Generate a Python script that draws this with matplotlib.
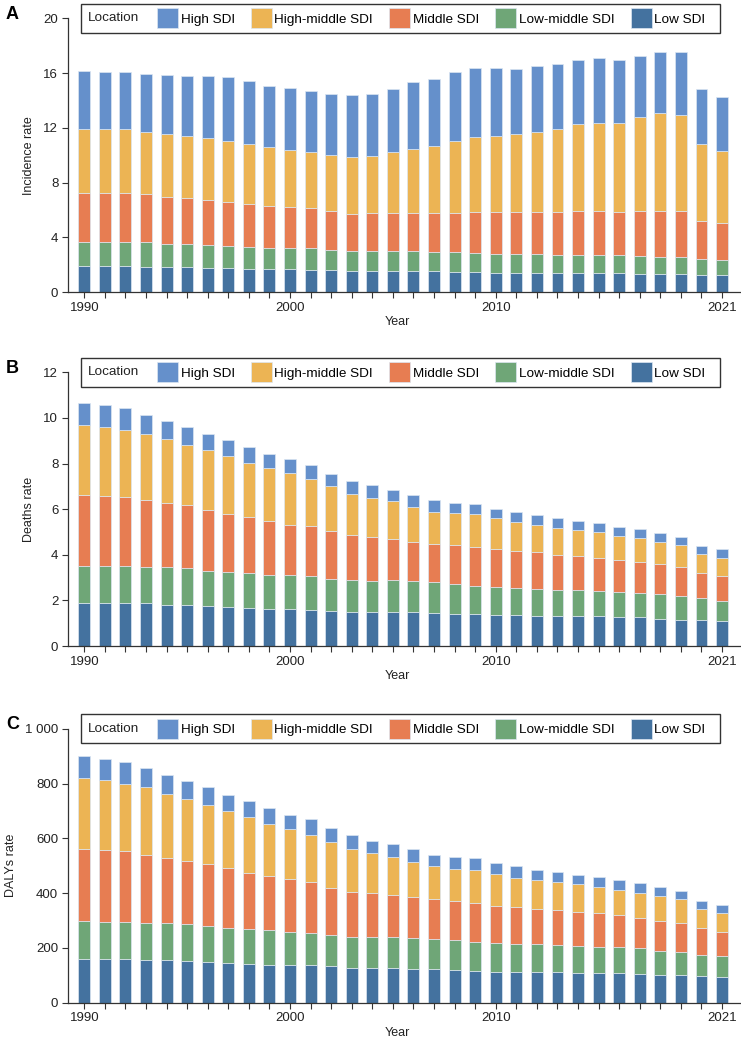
import matplotlib
matplotlib.use("Agg")
import matplotlib.pyplot as plt
import numpy as np
from matplotlib.patches import Patch, Rectangle
from matplotlib.ticker import FuncFormatter

plt.rcParams['font.family'] = ['Liberation Sans', 'DejaVu Sans']

years = list(range(1990, 2022))
groups = ["High SDI", "High-middle SDI", "Middle SDI", "Low-middle SDI", "Low SDI"]
colors = ["#6590CB", "#ECB454", "#E77D52", "#6FA677", "#44729F"]

# cumulative tops (low -> high)
inc_low = [1.95, 1.95, 1.95, 1.85, 1.85, 1.85, 1.78, 1.78, 1.70, 1.70, 1.70, 1.63, 1.63, 1.56, 1.56, 1.56,
           1.56, 1.56, 1.48, 1.48, 1.41, 1.41, 1.41, 1.41, 1.41, 1.41, 1.41, 1.34, 1.34, 1.34, 1.24, 1.24]
inc_lowmid = [3.65, 3.65, 3.65, 3.65, 3.55, 3.55, 3.45, 3.41, 3.31, 3.26, 3.26, 3.26, 3.11, 3.02, 3.02, 3.02,
              3.02, 2.97, 2.97, 2.87, 2.82, 2.82, 2.82, 2.73, 2.73, 2.73, 2.73, 2.65, 2.58, 2.58, 2.43, 2.34]
inc_mid = [7.23, 7.23, 7.23, 7.15, 6.98, 6.91, 6.76, 6.59, 6.45, 6.28, 6.20, 6.13, 5.91, 5.74, 5.77, 5.77,
           5.77, 5.77, 5.77, 5.86, 5.86, 5.86, 5.86, 5.86, 5.94, 5.94, 5.86, 5.94, 5.94, 5.94, 5.23, 5.09]
inc_highmid = [11.90, 11.90, 11.90, 11.73, 11.58, 11.44, 11.27, 11.02, 10.80, 10.58, 10.41, 10.24, 10.02, 9.88, 9.95, 10.27,
               10.49, 10.66, 11.05, 11.36, 11.44, 11.58, 11.68, 11.92, 12.29, 12.36, 12.36, 12.77, 13.07, 12.97, 10.80, 10.34]
inc_high = [16.18, 16.10, 16.10, 15.94, 15.86, 15.79, 15.79, 15.72, 15.43, 15.04, 14.94, 14.72, 14.45, 14.38, 14.45, 14.87,
            15.33, 15.55, 16.06, 16.35, 16.35, 16.28, 16.50, 16.67, 16.96, 17.13, 16.96, 17.27, 17.52, 17.52, 14.87, 14.23]

dth_low = [1.87, 1.87, 1.87, 1.87, 1.81, 1.81, 1.77, 1.71, 1.67, 1.62, 1.62, 1.56, 1.52, 1.48, 1.48, 1.48,
           1.48, 1.43, 1.39, 1.39, 1.35, 1.35, 1.30, 1.30, 1.30, 1.30, 1.26, 1.26, 1.20, 1.15, 1.15, 1.10]
dth_lowmid = [3.52, 3.49, 3.49, 3.45, 3.45, 3.41, 3.30, 3.26, 3.20, 3.11, 3.11, 3.08, 2.94, 2.89, 2.85, 2.89,
              2.84, 2.79, 2.70, 2.65, 2.60, 2.56, 2.50, 2.46, 2.46, 2.41, 2.37, 2.31, 2.28, 2.19, 2.09, 1.99]
dth_mid = [6.62, 6.59, 6.54, 6.40, 6.26, 6.17, 5.96, 5.79, 5.64, 5.50, 5.31, 5.26, 5.03, 4.85, 4.77, 4.71,
           4.56, 4.47, 4.43, 4.34, 4.24, 4.15, 4.11, 4.01, 3.95, 3.86, 3.77, 3.68, 3.58, 3.45, 3.22, 3.07]
dth_highmid = [9.71, 9.62, 9.49, 9.30, 9.06, 8.83, 8.61, 8.32, 8.03, 7.81, 7.57, 7.32, 7.00, 6.68, 6.49, 6.35,
               6.11, 5.88, 5.83, 5.79, 5.60, 5.45, 5.31, 5.18, 5.09, 4.99, 4.84, 4.75, 4.56, 4.43, 4.05, 3.86]
dth_high = [10.66, 10.56, 10.42, 10.13, 9.87, 9.62, 9.28, 9.02, 8.73, 8.41, 8.22, 7.92, 7.56, 7.22, 7.05, 6.86,
            6.64, 6.39, 6.29, 6.24, 6.02, 5.88, 5.75, 5.60, 5.50, 5.41, 5.23, 5.13, 4.94, 4.80, 4.37, 4.24]

dal_low = [159, 159, 159, 156, 156, 152, 148, 144, 140, 136, 136, 136, 133, 128, 128, 128,
           124, 124, 120, 117, 113, 113, 113, 113, 109, 109, 109, 106, 102, 102, 99, 94]
dal_lowmid = [299, 296, 296, 291, 291, 287, 280, 273, 268, 264, 260, 255, 248, 240, 241, 241,
              237, 232, 229, 221, 218, 214, 214, 209, 206, 202, 202, 198, 190, 186, 174, 172]
dal_mid = [560, 557, 552, 540, 528, 516, 506, 490, 474, 462, 450, 439, 420, 404, 399, 393,
           386, 377, 370, 365, 354, 349, 342, 338, 330, 326, 319, 310, 298, 291, 273, 257]
dal_highmid = [821, 813, 800, 786, 762, 743, 723, 700, 678, 653, 634, 613, 586, 560, 545, 533,
               513, 498, 489, 485, 470, 457, 448, 440, 432, 423, 411, 399, 389, 377, 342, 326]
dal_high = [901, 891, 880, 855, 833, 809, 786, 758, 735, 709, 687, 669, 637, 611, 590, 579,
            560, 541, 533, 529, 510, 498, 485, 476, 467, 460, 448, 436, 421, 409, 373, 358]

panels = [
    ("A", "Incidence rate", [inc_high, inc_highmid, inc_mid, inc_lowmid, inc_low], 20, [0, 4, 8, 12, 16, 20], 0.7187, 0.9824),
    ("B", "Deaths rate", [dth_high, dth_highmid, dth_mid, dth_lowmid, dth_low], 12, [0, 2, 4, 6, 8, 10, 12], 0.3782, 0.6417),
    ("C", "DALYs rate", [dal_high, dal_highmid, dal_mid, dal_lowmid, dal_low], 1000, [0, 200, 400, 600, 800, 1000], 0.0349, 0.2986),
]

fig = plt.figure(figsize=(7.41, 10.39), dpi=100)
fs = 9.5
ax_left = 0.0918
ax_w_px = 741 * (1.0 - ax_left)

for letter, ylab, tops, ymax, yt, bot, top in panels:
    ax = fig.add_axes([ax_left, bot, 1.0 - ax_left, top - bot])
    ax_h_px = 1039 * (top - bot)
    # stacked: draw from the bottom (Low SDI) up
    base = np.zeros(len(years))
    for i in range(4, -1, -1):
        cum = np.array(tops[i], dtype=float)
        ax.bar(years, cum - base, bottom=base, width=0.58, color=colors[i],
               edgecolor="#dce6f2", linewidth=0.5)
        base = cum
    ax.set_xlim(1989.21, 2021.92)
    ax.set_ylim(0, ymax)
    ax.set_yticks(yt)
    if ymax == 1000:
        ax.yaxis.set_major_formatter(FuncFormatter(lambda v, p: "1 000" if v == 1000 else "%d" % v))
    ax.set_xticks(years)
    ax.set_xticklabels([str(y) if y in (1990, 2000, 2010, 2021) else "" for y in years])
    for s in ("top", "right"):
        ax.spines[s].set_visible(False)
    for s in ("left", "bottom"):
        ax.spines[s].set_color("#333333")
        ax.spines[s].set_linewidth(0.9)
    ax.tick_params(axis="both", direction="out", length=4, width=0.8, color="#333333",
                   labelsize=fs, labelcolor="#222222", pad=3)
    ax.set_ylabel(ylab, fontsize=9, color="#222222", labelpad=6)
    ax.set_xlabel("Year", fontsize=9, color="#222222", labelpad=0)
    ax.xaxis.set_label_coords(0.49, -0.088)
    fig.text(0.008, top + 0.004, letter, fontsize=13, fontweight="bold", va="center", ha="left")

    # legend frame with "Location" on the same line
    box_h = 29 / ax_h_px
    ax.add_patch(Rectangle((13 / ax_w_px, 1 - box_h / 2), 639 / ax_w_px, box_h, transform=ax.transAxes,
                           facecolor="white", edgecolor="#333333", linewidth=1.0, clip_on=False, zorder=5))
    ax.text(20 / ax_w_px, 1.0, "Location", transform=ax.transAxes, fontsize=9.7, color="#222222",
            va="center", ha="left", zorder=6)
    handles = [Patch(facecolor=c, edgecolor="#dce6f2", linewidth=0.5) for c in colors]
    leg = ax.legend(handles, groups, loc="center left", bbox_to_anchor=(89 / ax_w_px, 1.0), ncol=5,
                    fontsize=9.7, frameon=False, handlelength=1.55, handleheight=1.95, handletextpad=0.2,
                    columnspacing=1.2, borderpad=0, borderaxespad=0)
    leg.set_zorder(7)

fig.savefig("out.png", dpi=100)
